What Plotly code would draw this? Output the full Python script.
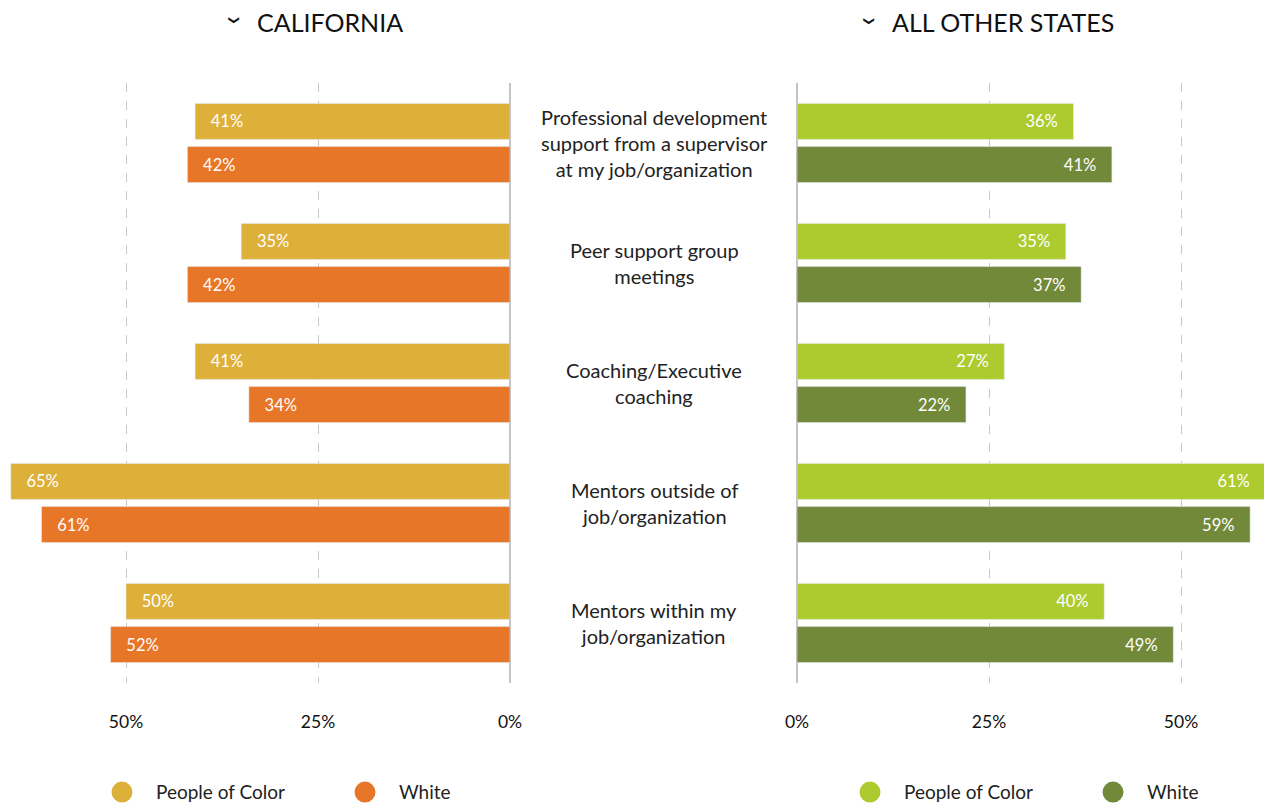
import plotly.graph_objects as go

categories = [
    "Professional development<br>support from a supervisor<br>at my job/organization",
    "Peer support group<br>meetings",
    "Coaching/Executive<br>coaching",
    "Mentors outside of<br>job/organization",
    "Mentors within my<br>job/organization",
]
ca_poc = [41, 35, 41, 65, 50]
ca_white = [42, 42, 34, 61, 52]
other_poc = [36, 35, 27, 61, 40]
other_white = [41, 37, 22, 59, 49]
tick_vals = [0, 25, 50]
tick_text = ["0%", "25%", "50%"]

CA_POC, CA_WHITE = "#DDB03A", "#E87628"
OT_POC, OT_WHITE = "#ADCB2F", "#72893A"
NB = "\u00a0"
FONT = "Lato"

fig = go.Figure()

def bars(vals, color, xaxis, offset, left):
    if left:
        labels = [NB * 3 + f"{v}%" for v in vals]
    else:
        labels = [f"{v}%" + NB * 3 for v in vals]
    return go.Bar(
        x=vals, y=categories, orientation="h", xaxis=xaxis, yaxis="y",
        marker_color=color, width=0.3, offset=offset,
        text=labels, textposition="inside", insidetextanchor="end",
        textfont=dict(color="white", size=16.5, family=FONT),
        showlegend=False, hoverinfo="skip",
    )

fig.add_trace(bars(ca_poc, CA_POC, "x", -0.33, True))
fig.add_trace(bars(ca_white, CA_WHITE, "x", 0.03, True))
fig.add_trace(bars(other_poc, OT_POC, "x2", -0.33, False))
fig.add_trace(bars(other_white, OT_WHITE, "x2", 0.03, False))

# legend entries (circles)
for name, color, leg in [("People of Color", CA_POC, "legend"), ("White", CA_WHITE, "legend"),
                         ("People of Color", OT_POC, "legend2"), ("White", OT_WHITE, "legend2")]:
    fig.add_trace(go.Scatter(
        x=[None], y=[None], mode="markers", name=name, legend=leg,
        marker=dict(symbol="circle", size=16, color=color, line=dict(color=color, width=5)),
        xaxis="x" if leg == "legend" else "x2", yaxis="y",
    ))

axis_common = dict(
    tickvals=tick_vals, ticktext=tick_text, showgrid=True, gridcolor="#c8c8c8",
    griddash="dash", gridwidth=1.3, zeroline=True, zerolinecolor="#c4c4c4",
    zerolinewidth=1.5, showline=False, ticks="", ticklabelstandoff=26,
    tickfont=dict(size=17.5, color="#111", family=FONT), fixedrange=True,
)

legend_common = dict(orientation="h", y=-0.182, xanchor="left", yanchor="middle",
                     entrywidth=170, itemwidth=58, itemsizing="trace",
                     font=dict(size=19, color="#222", family=FONT))

fig.update_layout(
    width=1264, height=804,
    margin=dict(l=0, r=0, t=83, b=121, autoexpand=False),
    plot_bgcolor="white", paper_bgcolor="white",
    barmode="overlay",
    xaxis=dict(domain=[0, 510 / 1264], range=[510 / 7.68, 0], automargin=False, **axis_common),
    xaxis2=dict(domain=[797 / 1264, 1], range=[0, 467 / 7.68], automargin=False, **axis_common),
    yaxis=dict(categoryorder="array", categoryarray=categories, autorange="reversed",
               showticklabels=False, showgrid=False, zeroline=False, fixedrange=True,
               automargin=False),
    legend=dict(x=88 / 1264, **legend_common),
    legend2=dict(x=836 / 1264, **legend_common),
    showlegend=True,
)

for cat in categories:
    fig.add_annotation(x=654 / 1264, xref="paper", y=cat, yref="y", text=cat,
                       showarrow=False, align="center", xanchor="center",
                       font=dict(size=20, color="#222", family=FONT))

for label, cx, chev_x in [("CALIFORNIA", 330, 234), ("ALL OTHER STATES", 1003, 869)]:
    fig.add_annotation(x=cx / 1264, xref="paper", y=1.1017, yref="paper", text=label,
                       showarrow=False, xanchor="center", yanchor="middle",
                       font=dict(size=25, color="#111", family=FONT))
    fig.add_annotation(x=chev_x / 1264, xref="paper", y=1.104, yref="paper", text="<b>❯</b>",
                       textangle=90, showarrow=False, xanchor="center", yanchor="middle",
                       font=dict(size=11, color="#111", family="DejaVu Sans"))

fig.write_html("out.html", config={"displayModeBar": False},
               post_script="document.body.style.margin='0';")
